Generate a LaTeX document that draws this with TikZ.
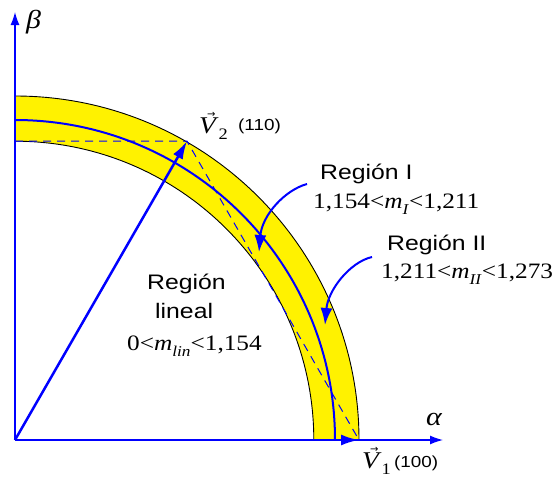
\documentclass[tikz,border=0pt]{standalone}
\usepackage{fontspec}
\setmainfont[FakeStretch=1.15]{Liberation Serif}
\newfontfamily\sansf[FakeStretch=1.18]{Liberation Sans}
\newfontfamily\symf{DejaVu Sans}
\usetikzlibrary{arrows.meta}
\newcommand\vv[1]{\ooalign{\textit{V}\cr\hidewidth\raisebox{0.66em}{\hspace{0.2em}{\symf\fontsize{10}{10}\selectfont →}}\hidewidth\cr}\raisebox{-0.27em}{\fontsize{16}{16}\selectfont #1}}
\newcommand\msub[1]{\textit{m}\raisebox{-0.3em}{\fontsize{15}{15}\selectfont\textit{#1}}}
\begin{document}
\begin{tikzpicture}[x=1pt,y=1pt,
  axisline/.style={blue,line width=1.3pt,-{Latex[length=13pt,width=9pt]}},
  vecline/.style={blue,line width=2.5pt,-{Latex[length=18pt,width=11pt]}},
  dashline/.style={blue,line width=1pt,dash pattern=on 8pt off 6pt},
  callout/.style={blue,line width=2pt,-{Latex[length=17pt,width=12pt]}},
  sanslbl/.style={inner sep=0pt,anchor=base west,font=\sansf\fontsize{21}{24}\selectfont},
  seriflbl/.style={inner sep=0pt,anchor=base west,font=\fontsize{22}{25}\selectfont},
  greeklbl/.style={inner sep=0pt,anchor=base west,font=\fontsize{26}{28}\selectfont},
  vlbl/.style={inner sep=0pt,anchor=base west,font=\fontsize{24}{26}\selectfont},
  smalllbl/.style={inner sep=0pt,anchor=base west,font=\sansf\fontsize{16}{18}\selectfont}]
\useasboundingbox (0,0) rectangle (555,-479);
\coordinate (O) at (15,-440);
\coordinate (V1) at (359,-440);
\coordinate (V2) at (187,-141.2);
\coordinate (H) at (15,-141.2);
\coordinate (xe) at (443,-440);
\coordinate (ye) at (15,-12);
% band
\filldraw[fill=yellow,draw=black,line width=0.9pt]
  (359,-440) arc (0:90:344) -- (15,-141.2) arc (90:0:298.8) -- cycle;
% middle circle
\draw[blue,line width=2pt] (335,-440) arc (0:90:320);
% hexagon edges
\draw[dashline] (H) -- (V2) -- (V1);
% axes
\draw[axisline] (O) -- (xe);
\draw[axisline] (O) -- (ye);
% vectors
\draw[vecline] (O) -- (V1);
\draw[vecline] (O) -- (V2);
% labels
\node[greeklbl] (beta) at (26,-28) {\textit{β}};
\node[greeklbl] (alpha) at (426,-425) {\textit{α}};
\node[vlbl] (v2lbl) at (199,-133) {\vv{2}};
\node[smalllbl] (v2code) at (238,-130) {(110)};
\node[vlbl] (v1lbl) at (362,-468) {\vv{1}};
\node[smalllbl] (v1code) at (394,-467) {(100)};
\node[sanslbl] (r1) at (320,-179.3) {Región I};
\node[seriflbl] (r1m) at (313,-208) {1,154<\msub{I}<1,211};
\node[sanslbl] (r2) at (387,-250) {Región II};
\node[seriflbl] (r2m) at (381,-278) {1,211<\msub{II}<1,273};
\node[sanslbl] (rl1) at (147,-289) {Región};
\node[sanslbl] (rl2) at (155,-318) {lineal};
\node[seriflbl] (rlm) at (127,-350) {0<\msub{lin}<1,154};
% callout arrows
\coordinate (s1) at (307,-184);
\coordinate (e1) at (259,-252);
\coordinate (s2) at (372,-257);
\coordinate (e2) at (325,-325);
\draw[callout] (s1) .. controls (285,-190) and (262,-215) .. (e1);
\draw[callout] (s2) .. controls (350,-262) and (328,-290) .. (e2);
\end{tikzpicture}
\end{document}
